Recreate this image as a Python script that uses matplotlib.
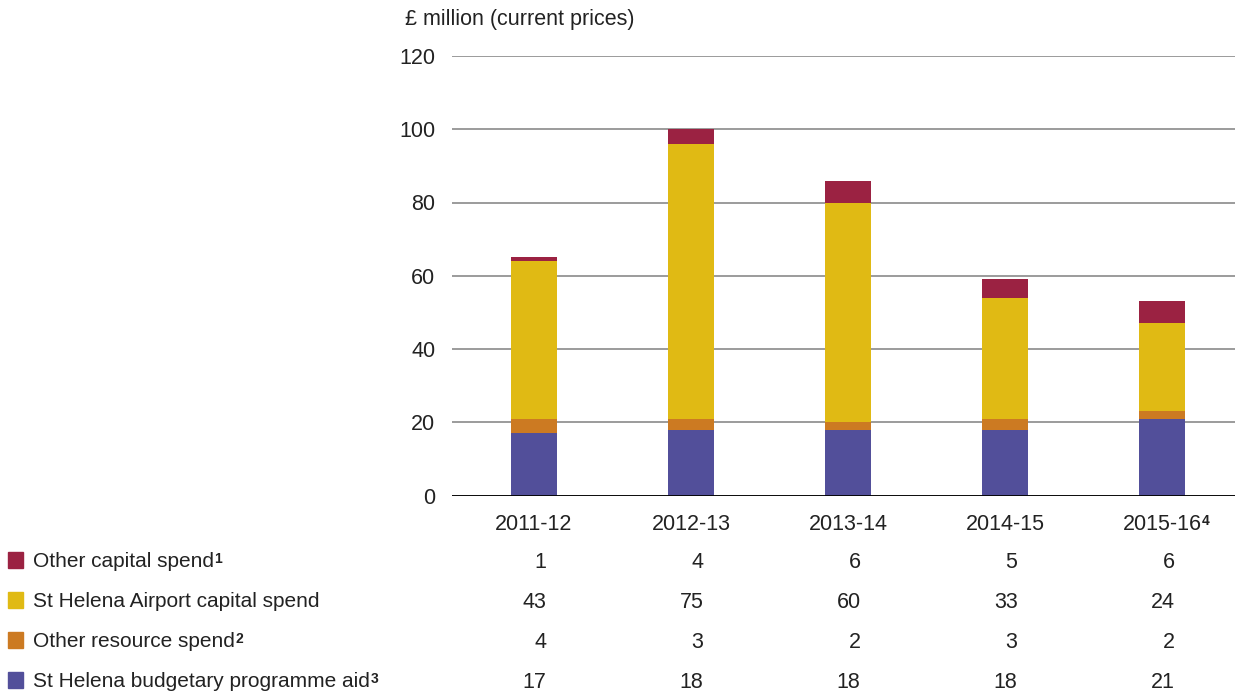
import matplotlib.pyplot as plt
from matplotlib.transforms import blended_transform_factory
import numpy as np

plt.rcParams['font.family'] = ['Liberation Sans', 'DejaVu Sans']

# financial years and spend per category (£ million)
years = ["2011-12", "2012-13", "2013-14", "2014-15", "2015-16"]
year_notes = ["", "", "", "", "4"]

budget_aid = [17, 18, 18, 18, 21]
other_resource = [4, 3, 2, 3, 2]
airport_capital = [43, 75, 60, 33, 24]
other_capital = [1, 4, 6, 5, 6]

# table rows, top to bottom
rows = [
    ("Other capital spend", "1", other_capital, "#9b2242"),
    ("St Helena Airport capital spend", "", airport_capital, "#e0ba14"),
    ("Other resource spend", "2", other_resource, "#cc7a22"),
    ("St Helena budgetary programme aid", "3", budget_aid, "#524f9a"),
]

W, H = 1235, 691
FS = 15.5      # numbers, ticks, title
FS_ROW = 15    # row names
FS_NOTE = 10   # footnote markers
TXT = "#222222"


def cap_px(fs):
    # cap height in pixels for Liberation Sans at 100 dpi
    return fs * 100 / 72 * 0.716


fig = plt.figure(figsize=(W / 100, H / 100), dpi=100)
ax = fig.add_axes([452 / W, 1 - 495.5 / H, 783 / W, 439.5 / H])

x = np.arange(len(years))
bottom = np.zeros(len(years))
for name, note, vals, col in reversed(rows):
    ax.bar(x, vals, width=0.293, bottom=bottom, color=col, zorder=2)
    bottom += np.array(vals)

ax.set_ylim(0, 120)
ax.set_xlim(-0.522, 4.465)
ax.set_yticks(range(0, 121, 20))
ax.yaxis.grid(True, color="#808080", lw=1.1, zorder=0)
ax.axhline(0, color="black", lw=1.3, zorder=3)
ax.tick_params(axis="y", length=0, pad=12, labelsize=FS, labelcolor=TXT)
ax.tick_params(axis="x", length=0, labelbottom=False)
for s in ax.spines.values():
    s.set_visible(False)

fig.text(405 / W, 1 - 20 / H, "£ million (current prices)",
         fontsize=FS, color=TXT, va="center")

fig.canvas.draw()
renderer = fig.canvas.get_renderer()
blend = blended_transform_factory(ax.transData, fig.transFigure)


def label_with_note(xpos, py, text, note, fs, transform, ha):
    # text placed on its baseline so the note can sit level with the caps
    base = py + cap_px(fs) / 2
    t = fig.text(xpos, 1 - base / H, text, fontsize=fs, color=TXT,
                 ha=ha, va="baseline", transform=transform)
    if note:
        fig.canvas.draw()
        bb = t.get_window_extent(renderer)
        top = base - cap_px(fs) + cap_px(FS_NOTE) + 0.5
        fig.text((bb.x1 + 0.5) / W, 1 - top / H, note, fontsize=FS_NOTE,
                 fontweight="bold", color=TXT, va="baseline")
    return t


# year labels under the axis
for i, (yr, note) in enumerate(zip(years, year_notes)):
    label_with_note(i, 522, yr, note, FS, blend, "center")

# legend rows with values, numbers right-aligned in each column
row_y = [560, 600, 640, 680]
for (name, note, vals, col), py in zip(rows, row_y):
    yf = 1 - py / H
    fig.patches.append(plt.Rectangle((8 / W, yf - 8 / H), 15 / W, 16 / H,
                                     transform=fig.transFigure, color=col))
    label_with_note(33 / W, py, name, note, FS_ROW, fig.transFigure, "left")
    for i, v in enumerate(vals):
        ax.text(i + 0.08, 1 - (py + cap_px(FS) / 2) / H, str(v), transform=blend,
                ha="right", va="baseline", fontsize=FS, color=TXT)

fig.savefig("out.png", dpi=100)
